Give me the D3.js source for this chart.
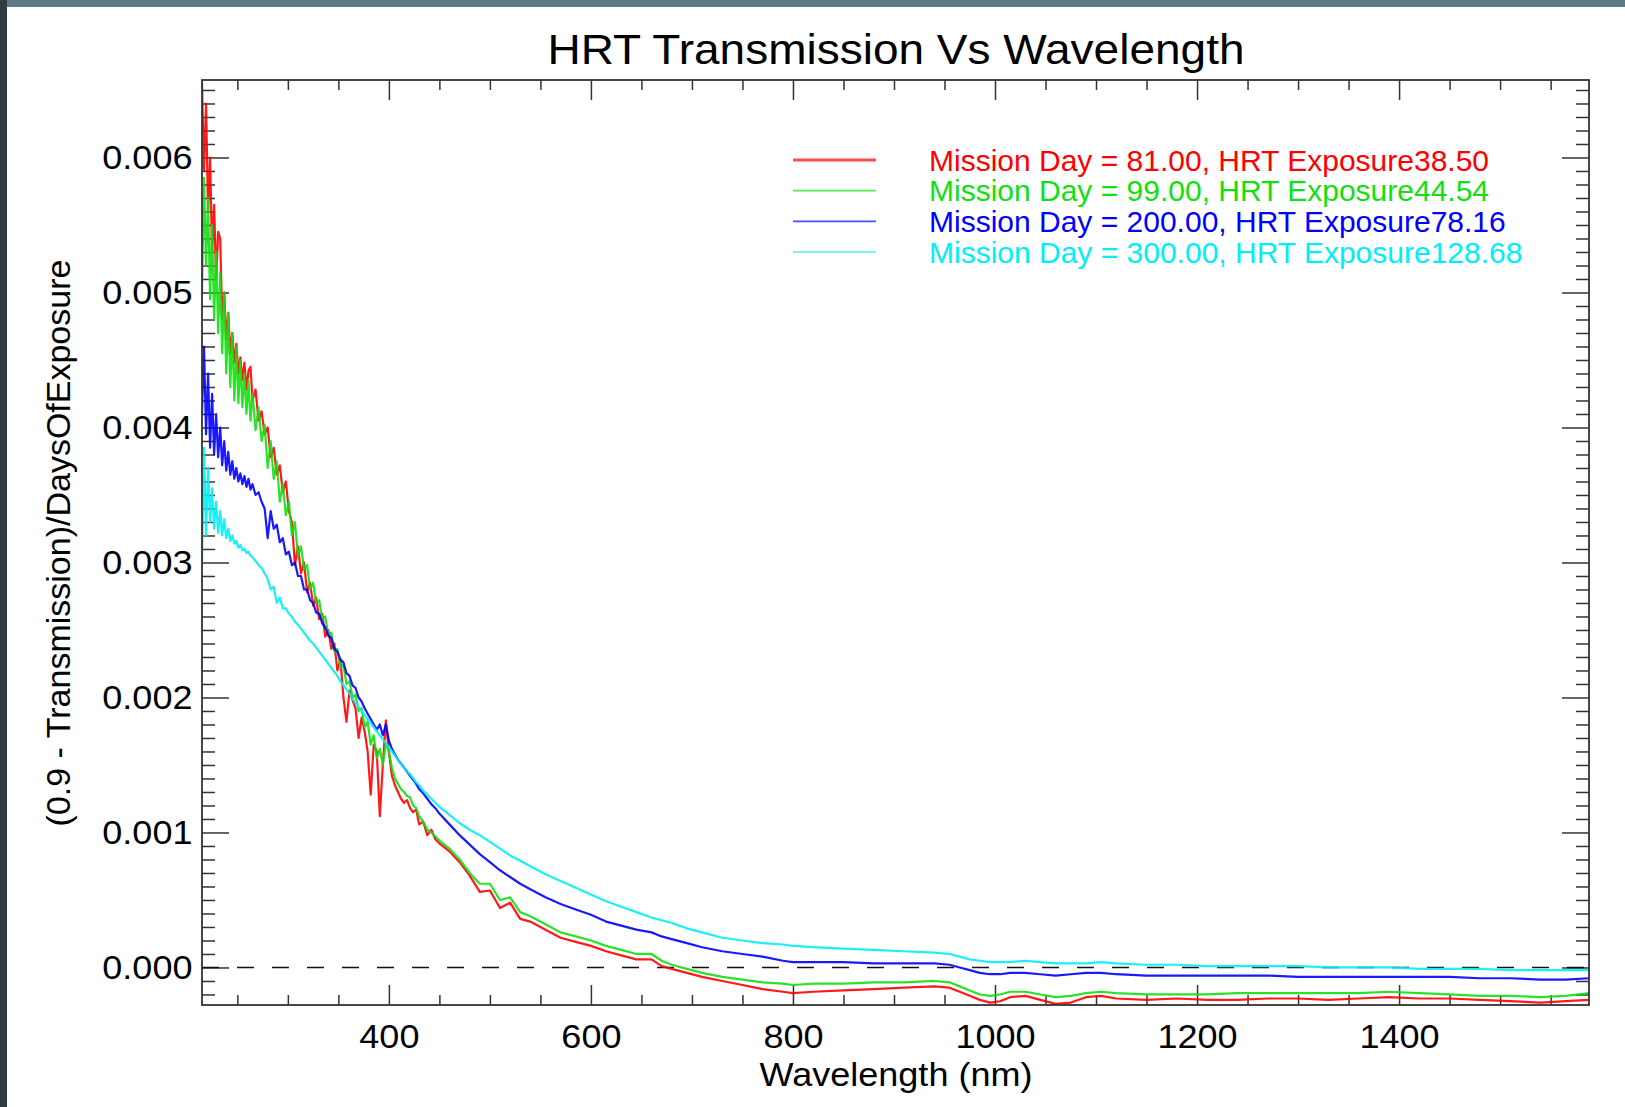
<!DOCTYPE html>
<html><head><meta charset="utf-8">
<script src="https://cdn.jsdelivr.net/npm/d3@7"></script>
<style>
html,body{margin:0;padding:0;background:#fff;}
svg{display:block;}
text{font-family:"Liberation Sans",Arial,Helvetica,sans-serif;}
</style></head><body>
<svg id="chart" width="1625" height="1107"></svg>
<script>
// ---------- DATA ----------
const wavelengths = [
215,217,219,221,223,225,227,229,231,233,235,237,239,241,243,245,247,249,251,253,255,257,259,261,263,265,
268,271,274,277,280,283,286,289,292,295,298,301,304,307,310,313,316,319,322,325,328,331,334,337,340,343,346,349,352,355,
358,361,364,367,370,373,376,379,382,385,388,391,394,397,400,403,406,409,412,415,418,421,424,427,430,434,438,442,446,450,
460,470,480,490,500,510,520,530,540,555,570,585,600,615,630,645,660,670,680,695,710,730,750,770,790,800,820,850,880,910,940,
955,965,975,985,995,1005,1015,1030,1045,1060,1075,1090,1105,1120,1150,1180,1210,1240,1270,1300,1330,1360,1390,1420,1450,1480,1510,1540,1565,1588];

const redValues = [
0.00655,0.00590,0.00640,0.00560,0.00600,0.00530,0.00565,0.00510,0.00545,0.00540,
0.00480,0.00500,0.00465,0.00485,0.00455,0.00470,0.00448,0.00462,0.00440,0.00452,
0.00435,0.00448,0.00428,0.00442,0.00445,0.00420,
0.00428,0.00405,0.00412,0.00395,0.00400,0.00378,0.00385,0.00365,0.00372,0.00352,
0.00360,0.00338,0.00330,0.00298,0.00312,0.00292,0.00300,0.00278,0.00285,0.00268,
0.00274,0.00258,0.00262,0.00245,0.00250,0.00236,0.00240,0.00220,0.00228,0.00200,
0.00182,0.00205,0.00198,0.00192,0.00170,0.00185,0.00175,0.00160,0.00128,0.00165,
0.00160,0.00112,0.00150,0.00183,0.00160,0.00142,0.00135,0.00130,0.00125,0.00122,
0.00124,0.00118,0.00115,0.00117,0.00106,0.00108,0.00098,0.00102,0.00095,0.00092,
0.00086,0.00078,0.00068,0.00056,0.00057,0.00044,0.00048,0.00036,0.00034,
0.00028,0.00022,0.00019,0.00016,0.00012,0.00009,0.00006,0.00006,
0.00001,-0.00001,-0.00004,-0.00007,-0.00010,-0.00013,-0.00016,-0.00018,-0.00019,-0.00018,-0.00017,-0.00016,-0.00015,-0.00014,
-0.00015,-0.00018,-0.00021,-0.00024,-0.00026,-0.00025,-0.00022,
-0.00021,-0.00024,-0.00027,-0.00026,-0.00022,-0.00021,-0.00023,
-0.00024,-0.00023,-0.00024,-0.00024,-0.00023,-0.00023,-0.00024,-0.00023,-0.00022,-0.00023,-0.00023,-0.00024,-0.00025,-0.00026,
-0.00025,-0.00024];

const greenValues = [
0.00500,0.00585,0.00520,0.00570,0.00495,0.00550,0.00480,0.00530,0.00470,0.00515,
0.00455,0.00500,0.00440,0.00485,0.00430,0.00470,0.00420,0.00460,0.00418,0.00450,
0.00415,0.00440,0.00410,0.00435,0.00405,0.00425,
0.00398,0.00415,0.00390,0.00402,0.00370,0.00390,0.00362,0.00375,0.00345,0.00358,
0.00335,0.00345,0.00320,0.00330,0.00305,0.00312,0.00295,0.00298,0.00280,0.00285,
0.00270,0.00272,0.00258,0.00260,0.00246,0.00248,0.00234,0.00236,0.00222,0.00224,
0.00210,0.00212,0.00200,0.00202,0.00190,0.00192,0.00178,0.00182,0.00165,0.00172,
0.00155,0.00162,0.00150,0.00166,0.00160,0.00148,0.00140,0.00136,0.00132,0.00130,
0.00127,0.00126,0.00120,0.00118,0.00112,0.00108,0.00102,0.00100,0.00097,0.00094,
0.00088,0.00080,0.00070,0.00062,0.00062,0.00050,0.00052,0.00041,0.00038,
0.00032,0.00026,0.00023,0.00020,0.00016,0.00013,0.00010,0.00010,
0.00005,0.00002,-0.00001,-0.00004,-0.00007,-0.00009,-0.00011,-0.00012,-0.00013,-0.00012,-0.00012,-0.00011,-0.00011,-0.00010,
-0.00011,-0.00014,-0.00017,-0.00020,-0.00021,-0.00020,-0.00018,
-0.00018,-0.00020,-0.00022,-0.00021,-0.00019,-0.00018,-0.00019,
-0.00020,-0.00020,-0.00020,-0.00019,-0.00019,-0.00019,-0.00019,-0.00019,-0.00018,-0.00019,-0.00020,-0.00021,-0.00021,-0.00022,
-0.00021,-0.00019];

const blueValues = [
0.00410,0.00460,0.00395,0.00440,0.00385,0.00425,0.00380,0.00410,0.00378,0.00400,
0.00372,0.00390,0.00368,0.00382,0.00365,0.00375,0.00362,0.00370,0.00360,0.00366,
0.00358,0.00364,0.00356,0.00362,0.00354,0.00358,
0.00350,0.00352,0.00345,0.00340,0.00318,0.00338,0.00325,0.00328,0.00315,0.00318,
0.00306,0.00308,0.00298,0.00300,0.00290,0.00290,0.00280,0.00280,0.00272,0.00270,
0.00263,0.00262,0.00255,0.00252,0.00246,0.00244,0.00236,0.00234,0.00228,0.00226,
0.00218,0.00216,0.00209,0.00207,0.00200,0.00197,0.00192,0.00188,0.00184,0.00180,
0.00176,0.00180,0.00172,0.00180,0.00168,0.00162,0.00158,0.00154,0.00151,0.00148,
0.00145,0.00142,0.00139,0.00136,0.00132,0.00129,0.00125,0.00121,0.00118,0.00114,
0.00106,0.00098,0.00091,0.00084,0.00078,0.00072,0.00067,0.00062,0.00058,
0.00052,0.00047,0.00043,0.00039,0.00034,0.00031,0.00028,0.00026,
0.00023,0.00021,0.00018,0.00015,0.00012,0.00010,0.00008,0.00005,0.00004,0.00004,0.00004,0.00003,0.00003,0.00003,
0.00002,0.00000,-0.00002,-0.00004,-0.00005,-0.00005,-0.00004,
-0.00004,-0.00005,-0.00006,-0.00005,-0.00004,-0.00004,-0.00005,
-0.00006,-0.00006,-0.00006,-0.00006,-0.00006,-0.00007,-0.00007,-0.00007,-0.00007,-0.00007,-0.00007,-0.00008,-0.00008,-0.00009,
-0.00009,-0.00008];

const cyanValues = [
0.00300,0.00385,0.00320,0.00370,0.00330,0.00355,0.00325,0.00345,0.00322,0.00338,
0.00320,0.00332,0.00318,0.00325,0.00316,0.00320,0.00314,0.00316,0.00311,0.00313,
0.00309,0.00310,0.00307,0.00308,0.00305,0.00304,
0.00301,0.00298,0.00296,0.00292,0.00288,0.00280,0.00282,0.00270,0.00274,0.00266,
0.00266,0.00262,0.00260,0.00256,0.00254,0.00251,0.00248,0.00245,0.00242,0.00240,
0.00237,0.00234,0.00231,0.00228,0.00225,0.00222,0.00219,0.00216,0.00212,0.00209,
0.00206,0.00203,0.00199,0.00196,0.00193,0.00190,0.00187,0.00184,0.00181,0.00178,
0.00175,0.00172,0.00169,0.00166,0.00163,0.00160,0.00157,0.00154,0.00151,0.00148,
0.00145,0.00143,0.00140,0.00137,0.00135,0.00131,0.00128,0.00125,0.00122,0.00119,
0.00113,0.00107,0.00102,0.00098,0.00093,0.00088,0.00083,0.00079,0.00075,
0.00069,0.00064,0.00059,0.00054,0.00049,0.00045,0.00041,0.00037,
0.00035,0.00033,0.00029,0.00026,0.00022,0.00020,0.00018,0.00017,0.00016,0.00015,0.00014,0.00013,0.00012,0.00011,
0.00010,0.00008,0.00006,0.00005,0.00004,0.00004,0.00004,
0.00005,0.00004,0.00003,0.00003,0.00003,0.00004,0.00003,
0.00002,0.00002,0.00001,0.00001,0.00001,0.00001,0.00000,0.00000,0.00000,-0.00001,-0.00001,-0.00001,-0.00002,-0.00002,
-0.00002,-0.00002];

const legendLabels = [
  "Mission Day = 81.00, HRT Exposure38.50",
  "Mission Day = 99.00, HRT Exposure44.54",
  "Mission Day = 200.00, HRT Exposure78.16",
  "Mission Day = 300.00, HRT Exposure128.68"];
const seriesColors = ["#ff0000", "#11e011", "#0000ff", "#00eef6"];

const xMajorTicks = [400, 600, 800, 1000, 1200, 1400];
const yMajorTicks = [0.000, 0.001, 0.002, 0.003, 0.004, 0.005, 0.006];
const titleText = "HRT Transmission Vs Wavelength";
const xLabelText = "Wavelength (nm)";
const yLabelText = "(0.9 - Transmission)/DaysOfExposure";

// ---------- LAYOUT ----------
const svg = d3.select("#chart");
const L = 202, R = 1589, T = 80, B = 1005;

// slide background border
svg.append("rect").attr("x",0).attr("y",0).attr("width",1625).attr("height",1107).attr("fill","#fff");
svg.append("rect").attr("x",0).attr("y",0).attr("width",1625).attr("height",7).attr("fill","#5e7c87");
svg.append("rect").attr("x",0).attr("y",0).attr("width",7).attr("height",1107).attr("fill","#2f3d43");

const x = d3.scaleLinear().domain([215, 1588]).range([L, R]);
const y = d3.scaleLinear().domain([-0.000278, 0.006574]).range([B, T]);

const xMinor = d3.range(250, 1588, 50).filter(v => v % 200 !== 0);
const yMinor = d3.range(-2, 66, 1).map(v => v / 10000).filter(v => Math.abs(Math.round(v*10000) % 10) !== 0);

const axisColor = "#333";
function styleAxis(g) {
  g.select(".domain").remove();
  g.selectAll(".tick line").attr("stroke", axisColor).attr("stroke-width", 1.5);
  g.selectAll("text").attr("fill", "#000").style("font-size", "34px")
   .attr("transform", "scale(1.06,1)")
   .style("font-family", '"Liberation Sans", Arial, Helvetica, sans-serif');
}

// bottom
svg.append("g").attr("transform", `translate(0,${B})`)
  .call(d3.axisBottom(x).tickValues(xMajorTicks).tickSize(-20).tickPadding(19).tickFormat(d3.format("d")))
  .call(styleAxis);
svg.append("g").attr("transform", `translate(0,${B})`)
  .call(d3.axisBottom(x).tickValues(xMinor).tickSize(-10).tickFormat(""))
  .call(styleAxis);
// top
svg.append("g").attr("transform", `translate(0,${T})`)
  .call(d3.axisTop(x).tickValues(xMajorTicks).tickSize(-20).tickFormat(""))
  .call(styleAxis);
svg.append("g").attr("transform", `translate(0,${T})`)
  .call(d3.axisTop(x).tickValues(xMinor).tickSize(-10).tickFormat(""))
  .call(styleAxis);
// left
svg.append("g").attr("transform", `translate(${L},0)`)
  .call(d3.axisLeft(y).tickValues(yMajorTicks).tickSize(-27).tickPadding(9).tickFormat(d3.format(".3f")))
  .call(styleAxis);
svg.append("g").attr("transform", `translate(${L},0)`)
  .call(d3.axisLeft(y).tickValues(yMinor).tickSize(-13).tickFormat(""))
  .call(styleAxis);
// right
svg.append("g").attr("transform", `translate(${R},0)`)
  .call(d3.axisRight(y).tickValues(yMajorTicks).tickSize(-27).tickFormat(""))
  .call(styleAxis);
svg.append("g").attr("transform", `translate(${R},0)`)
  .call(d3.axisRight(y).tickValues(yMinor).tickSize(-13).tickFormat(""))
  .call(styleAxis);

// zero dashed line
svg.append("line").attr("x1", L).attr("x2", R).attr("y1", y(0)).attr("y2", y(0))
  .attr("stroke", "#111").attr("stroke-width", 1.6).attr("stroke-dasharray", "17,18");

// clip
svg.append("clipPath").attr("id","clip").append("rect")
  .attr("x", L).attr("y", T).attr("width", R - L).attr("height", B - T);

const series = [redValues, greenValues, blueValues, cyanValues];
const line = d3.line().x((d, i) => x(wavelengths[i])).y(d => y(d));
const plotG = svg.append("g").attr("clip-path", "url(#clip)");
series.forEach((vals, k) => {
  plotG.append("path").datum(vals).attr("d", line)
    .attr("fill", "none").attr("stroke", seriesColors[k])
    .attr("stroke-width", 2.2).attr("stroke-linejoin", "round").attr("stroke-opacity", 0.9);
});

// frame
svg.append("rect").attr("x", L).attr("y", T).attr("width", R - L).attr("height", B - T)
  .attr("fill", "none").attr("stroke", axisColor).attr("stroke-width", 1.8);

// legend
const legendRowY = d3.scalePoint().domain(d3.range(legendLabels.length)).range([160, 252]);
legendLabels.forEach((lab, k) => {
  const yy = legendRowY(k);
  svg.append("line").attr("x1", 793).attr("x2", 876).attr("y1", yy).attr("y2", yy)
    .attr("stroke", seriesColors[k]).attr("stroke-opacity", 0.7)
    .attr("stroke-width", k === 0 ? 3 : 1.6);
  svg.append("text").attr("x", 929).attr("y", yy + 10.5)
    .attr("fill", seriesColors[k]).style("font-size", "30px").text(lab);
});

// titles
svg.append("text").attr("x", 896).attr("y", 64).attr("text-anchor", "middle")
  .attr("textLength", 697).attr("lengthAdjust", "spacingAndGlyphs")
  .style("font-size", "42px").attr("fill", "#000").text(titleText);
svg.append("text").attr("transform", "translate(896,1086) scale(1.06,1)").attr("text-anchor", "middle")
  .style("font-size", "34px").attr("fill", "#000").text(xLabelText);
svg.append("text").attr("transform", "translate(70,543) rotate(-90)").attr("text-anchor", "middle")
  .style("font-size", "34px").attr("fill", "#000").text(yLabelText);
</script>
</body></html>
